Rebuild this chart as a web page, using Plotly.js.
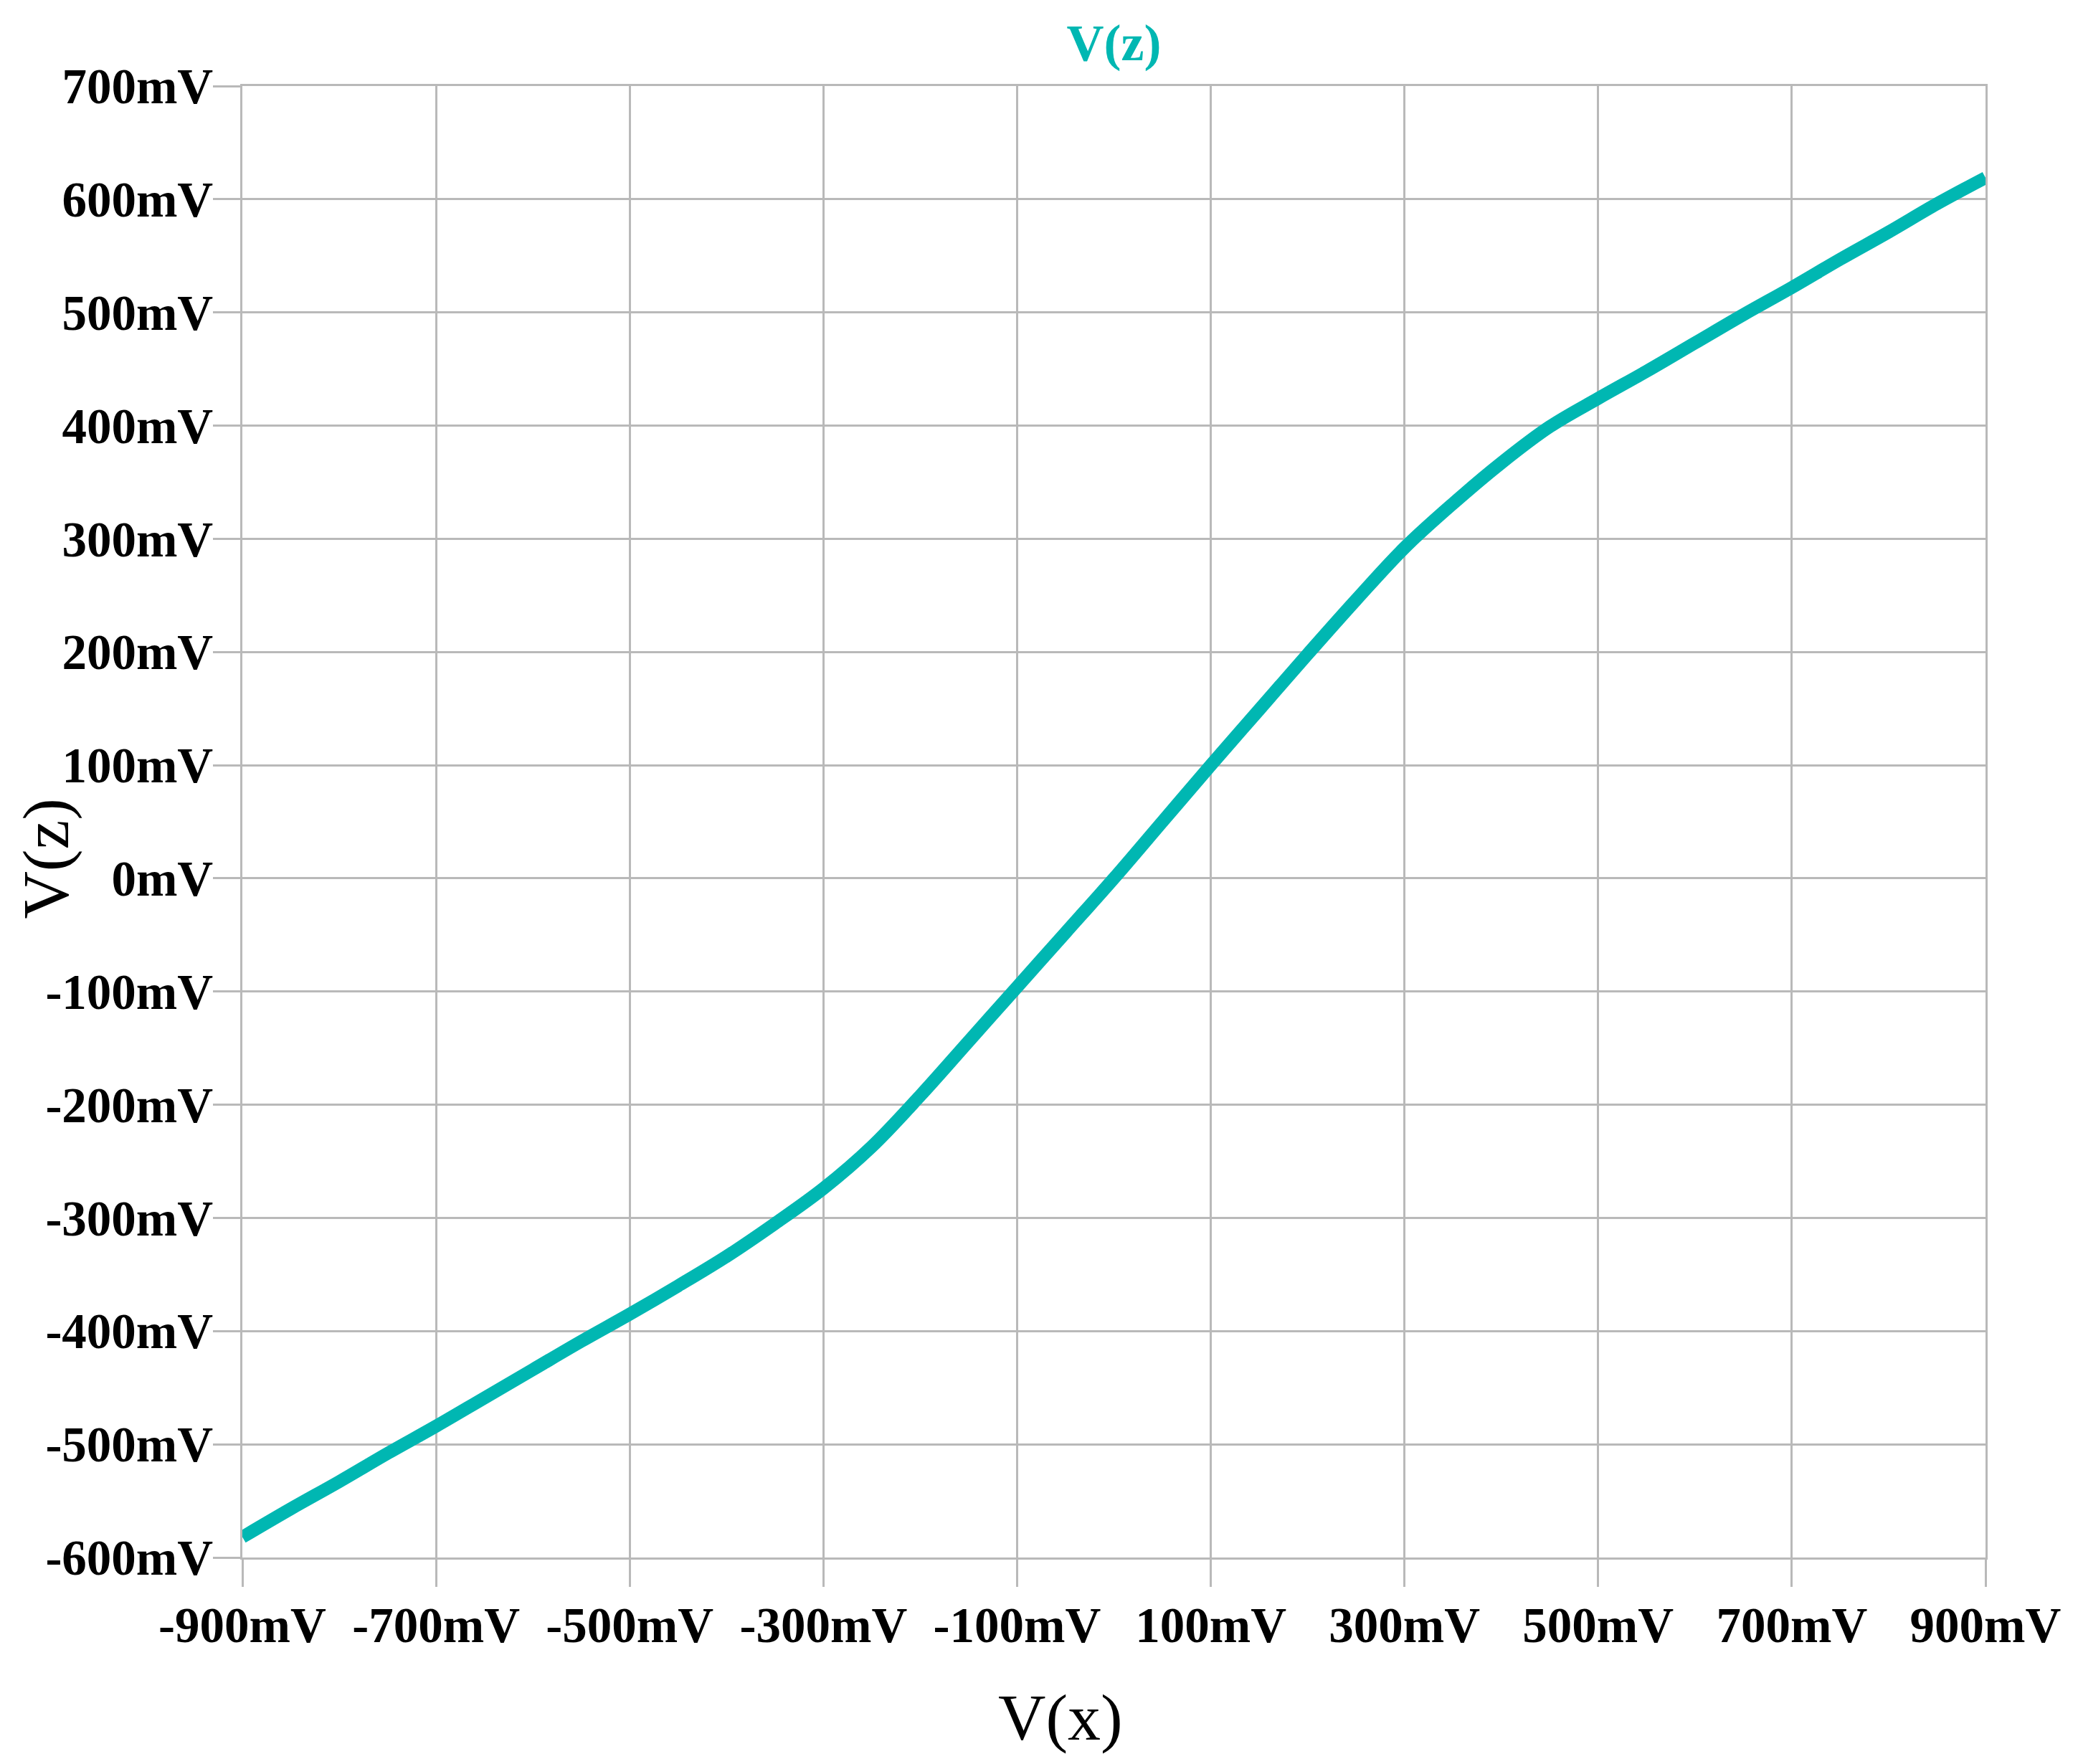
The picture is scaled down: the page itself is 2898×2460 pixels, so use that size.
<!DOCTYPE html>
<html>
<head>
<meta charset="utf-8">
<script src="https://cdn.plot.ly/plotly-3.0.1.min.js"></script>
<style>body{margin:0;background:#fff}</style>
</head>
<body>
<div id="plotter" style="width:2898px;height:2460px"></div>
<script>
// V(x) sweep (mV) and the resulting V(z) (mV)
var vx = [-900, -850, -800, -750, -700, -650, -600, -550, -500, -450, -400, -350, -300, -250, -200, -150, -100, -50, 0, 50, 100, 150, 200, 250, 300, 350, 400, 450, 500, 550, 600, 650, 700, 750, 800, 850, 900];
var vz = [-582, -557, -533, -508, -484, -459, -434, -409, -385, -360, -334, -305, -274, -237, -192, -144, -96, -48, 0, 50, 100, 149, 198, 246, 292, 331, 367, 399, 424, 448, 473, 498, 522, 547, 571, 596, 619];

var xTicks = [-900, -700, -500, -300, -100, 100, 300, 500, 700, 900];
var xTickText = ['-900mV', '-700mV', '-500mV', '-300mV', '-100mV', '100mV', '300mV', '500mV', '700mV', '900mV'];
var yTicks = [-600, -500, -400, -300, -200, -100, 0, 100, 200, 300, 400, 500, 600, 700];
var yTickText = ['-600mV', '-500mV', '-400mV', '-300mV', '-200mV', '-100mV', '0mV', '100mV', '200mV', '300mV', '400mV', '500mV', '600mV', '700mV'];

var teal = 'rgb(0, 183, 178)';
var grid = '#b9b9b9';
var serif = 'Liberation Serif, Times New Roman, serif';
var tickFont = {family: serif, size: 69, color: '#000', weight: 'bold'};

var data = [{
    x: vx,
    y: vz,
    type: 'scatter',
    mode: 'lines',
    name: 'V(z)',
    line: {color: teal, width: 18, shape: 'spline', smoothing: 1}
}];

var axisCommon = {
    showgrid: true,
    gridcolor: grid,
    gridwidth: 3,
    showline: true,
    linecolor: grid,
    linewidth: 3,
    mirror: true,
    zeroline: false,
    ticks: 'outside',
    ticklen: 38,
    tickwidth: 3,
    tickcolor: grid,
    tickfont: tickFont,
    tickmode: 'array'
};

var layout = {
    width: 2898,
    height: 2460,
    margin: {l: 338, r: 129, t: 120, b: 288},
    paper_bgcolor: '#fff',
    plot_bgcolor: '#fff',
    showlegend: false,
    title: {
        text: 'V(z)',
        font: {family: serif, size: 72, color: teal, weight: 'bold'},
        xref: 'paper', x: 0.5, xanchor: 'center',
        yref: 'container', y: 0.976, yanchor: 'middle'
    },
    xaxis: Object.assign({}, axisCommon, {
        range: [-900, 900],
        tickvals: xTicks,
        ticktext: xTickText,
        ticklabelstandoff: -6
    }),
    yaxis: Object.assign({}, axisCommon, {
        range: [-600, 700],
        tickvals: yTicks,
        ticktext: yTickText,
        ticklabelstandoff: -14
    }),
    annotations: [{
        text: 'V(x)', xref: 'paper', yref: 'paper', x: 0.4694, y: -0.1087,
        xanchor: 'center', yanchor: 'middle', showarrow: false,
        font: {family: serif, size: 92, color: '#000'}
    }, {
        text: 'V(z)', xref: 'paper', yref: 'paper', x: -0.1125, y: 0.4751,
        xanchor: 'center', yanchor: 'middle', showarrow: false, textangle: -90,
        font: {family: serif, size: 92, color: '#000'}
    }]
};

Plotly.newPlot('plotter', data, layout, {displayModeBar: false, staticPlot: true});
</script>
</body>
</html>
